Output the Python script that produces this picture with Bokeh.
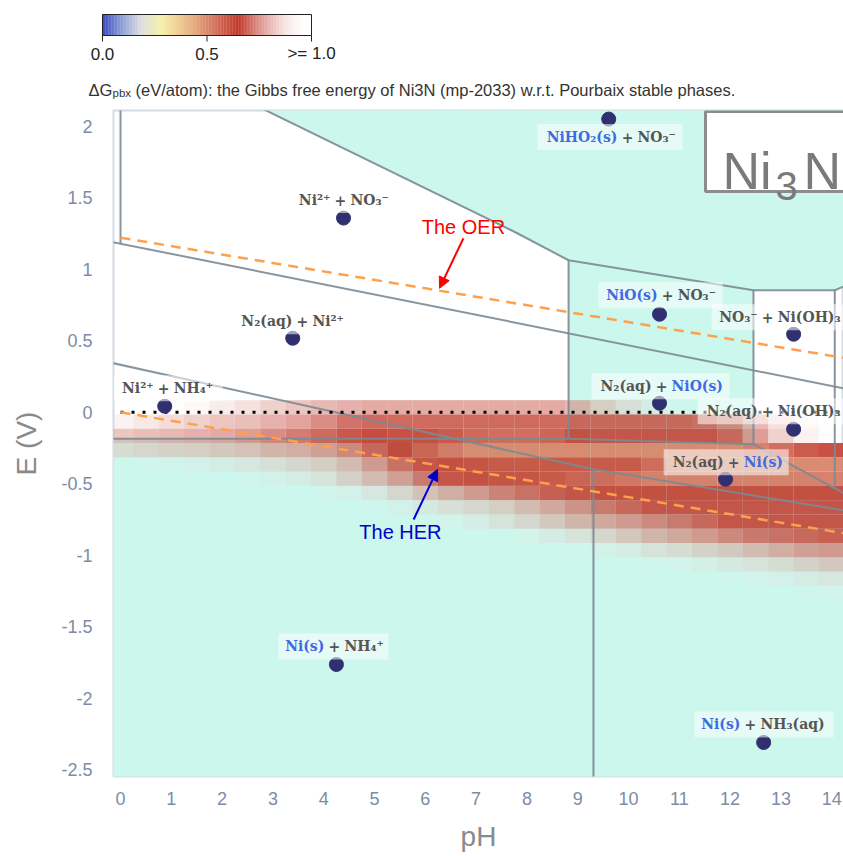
import numpy as np
from bokeh.plotting import figure
from bokeh.models import Range1d, Arrow, NormalHead, FixedTicker
from bokeh.layouts import column
from bokeh.embed import file_html
from bokeh.resources import INLINE
from bokeh.core.properties import value

# ---------------- axes ----------------
x_ticks = [0, 1, 2, 3, 4, 5, 6, 7, 8, 9, 10, 11, 12, 13, 14]
y_ticks = [2, 1.5, 1, 0.5, 0, -0.5, -1, -1.5, -2, -2.5]
y_tick_labels = ["2", "1.5", "1", "0.5", "0", "-0.5", "-1", "-1.5", "-2", "-2.5"]

# ---------------- heatmap (dG_pbx, eV/atom) ----------------
heat_ph = [0, 0.5, 1, 1.5, 2, 2.5, 3, 3.5, 4, 4.5, 5, 5.5, 6, 6.5, 7, 7.5, 8, 8.5, 9, 9.5,
           10, 10.5, 11, 11.5, 12, 12.5, 13, 13.5, 14]
heat_e = [0.035, -0.065, -0.165, -0.265, -0.365, -0.465, -0.565, -0.665, -0.765, -0.865,
          -0.965, -1.065, -1.165, -1.265]
heat_dg = [
    [1.0, 1.0, 0.98, 0.93, 0.88, 0.85, 0.82, 0.8, 0.78, 0.77, 0.76, 0.76, 0.76, 0.76, 0.76, 0.76, 0.76, 0.76, 0.78, 0.82, 0.86, 0.9, 0.95, 0.99, 1.0, 1.0, 1.0, 1.0, 1.0],
    [0.9, 0.87, 0.84, 0.82, 0.8, 0.79, 0.77, 0.75, 0.72, 0.69, 0.68, 0.68, 0.68, 0.68, 0.68, 0.68, 0.68, 0.68, 0.68, 0.68, 0.68, 0.68, 0.68, 0.69, 0.72, 0.78, 0.85, 0.92, 0.97],
    [0.8, 0.79, 0.78, 0.77, 0.76, 0.74, 0.72, 0.7, 0.68, 0.66, 0.65, 0.64, 0.64, 0.62, 0.59, 0.58, 0.58, 0.6, 0.64, 0.66, 0.66, 0.66, 0.66, 0.66, 0.68, 0.74, 0.82, 0.9, 0.96],
    [0.85, 0.84, 0.83, 0.82, 0.81, 0.8, 0.78, 0.77, 0.75, 0.72, 0.68, 0.65, 0.6, 0.55, 0.52, 0.52, 0.52, 0.52, 0.52, 0.52, 0.52, 0.52, 0.52, 0.52, 0.52, 0.54, 0.58, 0.62, 0.64],
    [0.99, 0.97, 0.95, 0.92, 0.9, 0.88, 0.86, 0.84, 0.82, 0.79, 0.74, 0.69, 0.66, 0.64, 0.63, 0.62, 0.62, 0.62, 0.62, 0.62, 0.62, 0.58, 0.52, 0.52, 0.52, 0.52, 0.52, 0.52, 0.52],
    [1.0, 1.0, 1.0, 1.0, 0.99, 0.96, 0.93, 0.9, 0.87, 0.83, 0.79, 0.75, 0.7, 0.66, 0.64, 0.63, 0.63, 0.62, 0.6, 0.58, 0.56, 0.54, 0.54, 0.54, 0.54, 0.54, 0.54, 0.54, 0.54],
    [1.0, 1.0, 1.0, 1.0, 1.0, 1.0, 1.0, 1.0, 0.96, 0.92, 0.88, 0.84, 0.8, 0.77, 0.74, 0.71, 0.69, 0.67, 0.66, 0.64, 0.64, 0.64, 0.64, 0.64, 0.64, 0.64, 0.64, 0.64, 0.64],
    [1.0, 1.0, 1.0, 1.0, 1.0, 1.0, 1.0, 1.0, 1.0, 1.0, 0.97, 0.93, 0.89, 0.86, 0.84, 0.82, 0.79, 0.76, 0.73, 0.7, 0.68, 0.66, 0.66, 0.66, 0.66, 0.66, 0.66, 0.66, 0.66],
    [1.0, 1.0, 1.0, 1.0, 1.0, 1.0, 1.0, 1.0, 1.0, 1.0, 1.0, 1.0, 0.98, 0.94, 0.9, 0.87, 0.84, 0.81, 0.78, 0.76, 0.74, 0.72, 0.7, 0.68, 0.66, 0.66, 0.66, 0.66, 0.66],
    [1.0, 1.0, 1.0, 1.0, 1.0, 1.0, 1.0, 1.0, 1.0, 1.0, 1.0, 1.0, 1.0, 1.0, 1.0, 0.98, 0.94, 0.9, 0.87, 0.84, 0.81, 0.78, 0.76, 0.74, 0.72, 0.7, 0.69, 0.68, 0.67],
    [1.0, 1.0, 1.0, 1.0, 1.0, 1.0, 1.0, 1.0, 1.0, 1.0, 1.0, 1.0, 1.0, 1.0, 1.0, 1.0, 1.0, 1.0, 0.97, 0.93, 0.9, 0.87, 0.85, 0.83, 0.81, 0.79, 0.77, 0.75, 0.74],
    [1.0, 1.0, 1.0, 1.0, 1.0, 1.0, 1.0, 1.0, 1.0, 1.0, 1.0, 1.0, 1.0, 1.0, 1.0, 1.0, 1.0, 1.0, 1.0, 1.0, 1.0, 0.97, 0.94, 0.91, 0.89, 0.87, 0.85, 0.83, 0.81],
    [1.0, 1.0, 1.0, 1.0, 1.0, 1.0, 1.0, 1.0, 1.0, 1.0, 1.0, 1.0, 1.0, 1.0, 1.0, 1.0, 1.0, 1.0, 1.0, 1.0, 1.0, 1.0, 1.0, 1.0, 0.97, 0.94, 0.92, 0.9, 0.88],
    [1.0, 1.0, 1.0, 1.0, 1.0, 1.0, 1.0, 1.0, 1.0, 1.0, 1.0, 1.0, 1.0, 1.0, 1.0, 1.0, 1.0, 1.0, 1.0, 1.0, 1.0, 1.0, 1.0, 1.0, 1.0, 1.0, 1.0, 0.97, 0.94],
]
heat_dph = 0.5
heat_de = 0.1

# ---------------- phase boundaries (pH, E) ----------------
b_no3_ph = [-0.2, 14.3];                 b_no3_e = [1.194, 0.163]
b_nh4_ph = [-0.2, 9.31];                 b_nh4_e = [0.348, -0.399]
b_nh3_ph = [9.31, 14.3];                 b_nh3_e = [-0.399, -0.69]
b_nhv_ph = [9.31, 9.31];                 b_nhv_e = [-0.399, -2.7]
b_ni_ph = [-0.2, 8.82];                  b_ni_e = [-0.186, -0.186]
b_low_ph = [8.82, 12.46, 14.06, 14.3];   b_low_e = [-0.186, -0.224, -0.532, -0.58]
b_ph0_ph = [0, 0];                       b_ph0_e = [2.2, 1.18]
b_top_ph = [2.36, 7.81, 8.82, 12.46, 14.06, 14.3]
b_top_e = [2.2, 1.253, 1.064, 0.854, 0.854, 0.89]
b_v1_ph = [8.82, 8.82];                  b_v1_e = [1.064, -0.186]
b_v2_ph = [12.46, 12.46];                b_v2_e = [0.854, -0.224]
b_v3_ph = [14.06, 14.06];                b_v3_e = [0.854, -0.532]

oer_ph = [0, 14.3];  oer_e = [1.222, 0.377]
her_ph = [0, 14.3];  her_e = [0.0, -0.85]
zero_ph = [0, 14.3]; zero_e = [0.0, 0.0]

# ---------------- phase labels ----------------
lab_left = ["Ni²⁺", "N₂(aq)", "Ni²⁺", "NiHO₂(s)", "NiO(s)", "NO₃⁻", "N₂(aq)", "N₂(aq)", "N₂(aq)", "Ni(s)", "Ni(s)"]
lab_right = ["NO₃⁻", "Ni²⁺", "NH₄⁺", "NO₃⁻", "NO₃⁻", "Ni(OH)₃", "NiO(s)", "Ni(OH)₃", "Ni(s)", "NH₄⁺", "NH₃(aq)"]
lab_left_solid = [False, False, False, True, True, False, False, False, False, True, True]
lab_right_solid = [False, False, False, False, False, False, True, False, True, False, False]
lab_ph = [4.33, 3.58, 0.85, 9.98, 10.77, 12.74, 10.65, 12.74, 12.07, 4.21, 12.40]
lab_e = [1.485, 0.637, 0.168, 1.926, 0.819, 0.665, 0.182, 0.007, -0.350, -1.639, -2.185]
dot_ph = [4.39, 3.39, 0.87, 9.61, 10.61, 13.25, 10.61, 13.25, 11.91, 4.25, 12.66]
dot_e = [1.359, 0.518, 0.042, 2.052, 0.686, 0.546, 0.063, -0.119, -0.469, -1.765, -2.311]
box_wl = [44, 65, 45, 85, 64, 51, 65, 65, 65, 51, 51]
box_wr = [50, 45, 54, 50, 50, 90, 63, 90, 50, 49, 78]

oer_arrow = [6.75, 1.218, 6.28, 0.868]
her_arrow = [5.77, -0.75, 6.24, -0.40]
oer_text = [6.75, 1.296]
her_text = [5.51, -0.84]

# ---------------- colour scale ----------------
cb_stops = [0.0, 0.08, 0.18, 0.28, 0.35, 0.45, 0.55, 0.65, 0.78, 0.9, 1.0]
cb_rgb = [(59, 76, 192), (130, 150, 210), (220, 220, 225), (245, 240, 170), (240, 210, 150),
          (225, 165, 125), (210, 110, 90), (192, 57, 43), (215, 130, 120), (240, 210, 205),
          (255, 255, 255)]


def cmap(v):
    v = min(max(v, 0.0), 1.0)
    r = np.interp(v, cb_stops, [c[0] for c in cb_rgb])
    g = np.interp(v, cb_stops, [c[1] for c in cb_rgb])
    b = np.interp(v, cb_stops, [c[2] for c in cb_rgb])
    a = 0.9 * min(1.0, (1.0 - v) / 0.35)
    return "#%02x%02x%02x" % (int(round(r)), int(round(g)), int(round(b))), a


TEAL = "#cbf7ec"
LINE = "#7b8a93"
GREY_TXT = "#555555"
BLUE_TXT = "#4169e1"

# ---------------- main figure ----------------
X0, X1 = -0.138, 14.232
Y0, Y1 = -2.549, 2.112
W, H = 843, 756
ML, MR, MT, MB = 113, 0, 10, 80

p = figure(width=W, height=H, x_range=Range1d(X0, X1), y_range=Range1d(Y0, Y1),
           toolbar_location=None, output_backend="svg",
           min_border_left=ML, min_border_right=MR, min_border_top=MT, min_border_bottom=MB)
p.xgrid.visible = False
p.ygrid.visible = False
p.outline_line_color = "#d3dbe4"
p.outline_line_width = 2
p.background_fill_color = "white"

sx = (W - ML - MR) / (X1 - X0)
sy = (H - MT - MB) / (Y1 - Y0)

# teal stable-solid regions
teal_xs = [b_top_ph + [14.3],
           [b_v1_ph[0], b_v2_ph[0], b_v2_ph[1], b_v1_ph[1]],
           b_ni_ph + b_low_ph[1:] + [14.3, -0.2]]
teal_ys = [b_top_e + [2.2],
           [b_v1_e[0], b_v2_e[0], b_v2_e[1], b_v1_e[1]],
           b_ni_e + b_low_e[1:] + [-2.7, -2.7]]
p.patches(teal_xs, teal_ys, fill_color=TEAL, line_color=None)

# heatmap cells
hl, hr, ht, hb, hc, ha = [], [], [], [], [], []
for e, row in zip(heat_e, heat_dg):
    for ph, v in zip(heat_ph, row):
        if v >= 1.0:
            continue
        c, a = cmap(v)
        hl.append(ph - heat_dph / 2); hr.append(ph + heat_dph / 2)
        ht.append(e + heat_de / 2); hb.append(e - heat_de / 2)
        hc.append(c); ha.append(a)
p.quad(left=hl, right=hr, top=ht, bottom=hb, fill_color=hc, fill_alpha=ha, line_color=None)

# boundaries
bxs = [b_no3_ph, b_nh4_ph, b_nh3_ph, b_nhv_ph, b_ni_ph, b_low_ph, b_ph0_ph, b_top_ph, b_v1_ph, b_v2_ph, b_v3_ph]
bys = [b_no3_e, b_nh4_e, b_nh3_e, b_nhv_e, b_ni_e, b_low_e, b_ph0_e, b_top_e, b_v1_e, b_v2_e, b_v3_e]
p.multi_line(bxs, bys, line_color=LINE, line_width=2, line_alpha=0.9)

# water lines
p.line(zero_ph, zero_e, line_color="black", line_width=3, line_dash="3 8")
p.line(oer_ph, oer_e, line_color="#ffa04d", line_width=2.5, line_dash="10 7")
p.line(her_ph, her_e, line_color="#ffa04d", line_width=2.5, line_dash="10 7")

# dots
p.scatter(dot_ph, dot_e, size=14, color="#303070")

# label boxes
bl = [x - (w + 5) / sx for x, w in zip(lab_ph, box_wl)]
br = [x + (w + 5) / sx for x, w in zip(lab_ph, box_wr)]
bt = [y + 13 / sy for y in lab_e]
bb = [y - 13 / sy for y in lab_e]
p.quad(left=bl, right=br, top=bt, bottom=bb, fill_color="white", fill_alpha=0.55, line_color=None)

lab_font = value("DejaVu Serif")
p.text(lab_ph, lab_e, text=lab_left, text_align="right", text_baseline="middle", x_offset=-10,
       text_font=lab_font, text_font_size="14px", text_font_style="bold",
       text_color=[BLUE_TXT if s else GREY_TXT for s in lab_left_solid])
p.text(lab_ph, lab_e, text=["+"] * len(lab_ph), text_align="center", text_baseline="middle",
       text_font=lab_font, text_font_size="14px", text_font_style="bold", text_color=GREY_TXT)
p.text(lab_ph, lab_e, text=lab_right, text_align="left", text_baseline="middle", x_offset=10,
       text_font=lab_font, text_font_size="14px", text_font_style="bold",
       text_color=[BLUE_TXT if s else GREY_TXT for s in lab_right_solid])

# OER / HER annotations
p.add_layout(Arrow(end=NormalHead(size=11, fill_color="#ff0000", line_color="#ff0000"),
                   x_start=oer_arrow[0], y_start=oer_arrow[1], x_end=oer_arrow[2], y_end=oer_arrow[3],
                   line_color="#ff0000", line_width=2))
p.add_layout(Arrow(end=NormalHead(size=11, fill_color="#0000cc", line_color="#0000cc"),
                   x_start=her_arrow[0], y_start=her_arrow[1], x_end=her_arrow[2], y_end=her_arrow[3],
                   line_color="#0000cc", line_width=2))
p.text([oer_text[0]], [oer_text[1]], text=["The OER"], text_align="center", text_baseline="middle",
       text_font=value("Liberation Sans"), text_font_size="20px", text_color="#ff0000")
p.text([her_text[0]], [her_text[1]], text=["The HER"], text_align="center", text_baseline="middle",
       text_font=value("Liberation Sans"), text_font_size="20px", text_color="#0000cc")

# title box
tb_left = X0 + (705 - ML) / sx
tb_bottom = Y1 - (191 - 110) / sy
p.quad(left=[tb_left], right=[X1 + 1], top=[Y1 - 1.0 / sy], bottom=[tb_bottom],
       fill_color="white", line_color="#8c8c8c", line_width=3)
ty = Y1 - (170 - 110) / sy
p.text([tb_left + 17 / sx], [ty], text=["Ni"], text_align="left", text_baseline="alphabetic",
       text_font=value("Liberation Sans"), text_font_size="52px", text_color="#7a7a7a")
p.text([tb_left + 70 / sx], [ty - 15 / sy], text=["3"], text_align="left", text_baseline="alphabetic",
       text_font=value("Liberation Sans"), text_font_size="40px", text_color="#7a7a7a")
p.text([tb_left + 98 / sx], [ty], text=["N"], text_align="left", text_baseline="alphabetic",
       text_font=value("Liberation Sans"), text_font_size="52px", text_color="#7a7a7a")

# axes styling
p.xaxis.ticker = FixedTicker(ticks=x_ticks)
p.yaxis.ticker = FixedTicker(ticks=y_ticks)
p.yaxis.major_label_overrides = {t: s for t, s in zip(y_ticks, y_tick_labels)}
for ax in (p.xaxis[0], p.yaxis[0]):
    ax.axis_line_color = None
    ax.major_tick_line_color = None
    ax.minor_tick_line_color = None
    ax.major_tick_out = 0
    ax.major_tick_in = 0
    ax.minor_tick_out = 0
    ax.major_label_text_font = "Liberation Sans"
    ax.major_label_text_font_size = "18px"
    ax.major_label_text_color = "#7d8ca5"
    ax.axis_label_text_font = "Liberation Sans"
    ax.axis_label_text_font_size = "28px"
    ax.axis_label_text_font_style = "normal"
    ax.axis_label_text_color = "#8a8a8a"
p.xaxis.axis_label = "pH"
p.yaxis.axis_label = "E (V)"
p.yaxis.major_label_standoff = 21
p.xaxis.major_label_standoff = 15
p.yaxis.axis_label_standoff = 16
p.xaxis.axis_label_standoff = 13

# ---------------- colour bar + caption ----------------
top = figure(width=W, height=100, x_range=Range1d(0, W), y_range=Range1d(100, 0),
             toolbar_location=None, output_backend="svg", min_border=0)
top.axis.visible = False
top.grid.visible = False
top.outline_line_color = None
try:
    top.frame_align = False
except Exception:
    pass

cb_x0, cb_x1, cb_y0, cb_y1 = 102, 311, 14, 35
cb_n = 140
cl, cr, cc, ca = [], [], [], []
for i in range(cb_n):
    v = (i + 0.5) / cb_n
    c, a = cmap(v)
    cl.append(cb_x0 + (cb_x1 - cb_x0) * i / cb_n)
    cr.append(cb_x0 + (cb_x1 - cb_x0) * (i + 1) / cb_n + 0.3)
    cc.append(c); ca.append(a / 0.9)
top.quad(left=cl, right=cr, top=cb_y0, bottom=cb_y1, fill_color=cc, fill_alpha=ca, line_color=None)
top.quad(left=[cb_x0], right=[cb_x1], top=[cb_y0], bottom=[cb_y1], fill_color=None,
         line_color="#222222", line_width=1)
cb_tick_vals = [0.0, 0.5, 1.0]
cb_tick_labels = ["0.0", "0.5", ">= 1.0"]
tx = [cb_x0 + (cb_x1 - cb_x0) * t for t in cb_tick_vals]
top.segment(x0=tx, y0=[cb_y1] * 3, x1=tx, y1=[cb_y1 + 6] * 3, line_color="#222222", line_width=1)
top.text(tx, [53] * 3, text=cb_tick_labels, text_align="center", text_baseline="middle",
         text_font=value("Liberation Sans"), text_font_size="17px", text_color="#222222")
top.text([88], [89], text=["ΔG"], text_align="left", text_baseline="alphabetic",
         text_font=value("Liberation Sans"), text_font_size="16.5px", text_color="#333333")
top.text([112], [92], text=["pbx"], text_align="left", text_baseline="alphabetic",
         text_font=value("Liberation Sans"), text_font_size="11.5px", text_color="#333333")
top.text([135], [89], text=["(eV/atom): the Gibbs free energy of Ni3N (mp-2033) w.r.t. Pourbaix stable phases."],
         text_align="left", text_baseline="alphabetic",
         text_font=value("Liberation Sans"), text_font_size="16.5px", text_color="#333333")

layout = column(top, p, spacing=0)
open("out.html", "w").write(file_html(layout, INLINE))
